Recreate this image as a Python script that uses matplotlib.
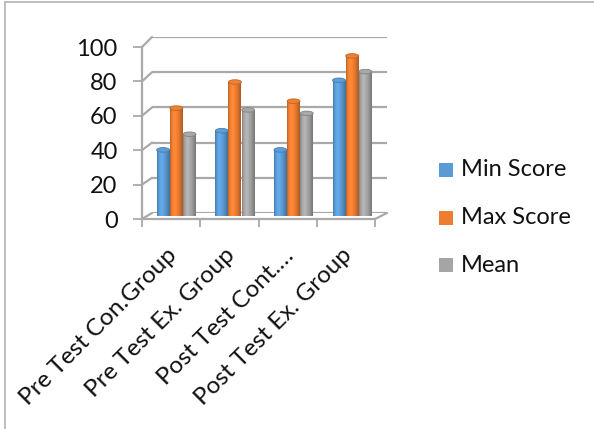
import matplotlib
matplotlib.use("Agg")
import matplotlib.pyplot as plt
from matplotlib.patches import Ellipse, Rectangle, ConnectionPatch
from matplotlib.lines import Line2D
from matplotlib.colors import to_rgb
from matplotlib.transforms import ScaledTranslation
import numpy as np

plt.rcParams['font.family'] = ['Lato', 'DejaVu Sans']

groups = ["Pre Test Con.Group", "Pre Test Ex. Group", "Post Test Cont.\u2026", "Post Test Ex. Group"]
series = ["Min Score", "Max Score", "Mean"]
min_score = [38, 49, 38, 78]
max_score = [62, 77, 66, 92]
mean_score = [47, 61, 59, 83]
colors = ["#5B9BD5", "#ED7D31", "#A5A5A5"]
yticks = [0, 20, 40, 60, 80, 100]

W, H = 594, 429
fig = plt.figure(figsize=(W / 100, H / 100), dpi=100)

def px_axes(left, right, top, bottom):
    # axes box given in pixel coordinates measured from the top-left corner
    return fig.add_axes([left / W, (H - bottom) / H, (right - left) / W, (bottom - top) / H])

grid_col = "#A9A9A9"
ax_back = px_axes(152, 387, 37, 213)   # back wall
ax_mid = px_axes(147, 381.5, 42, 216)  # plane the cylinders stand in
ax_front = px_axes(142, 375, 47, 219)  # front edge with ticks and labels

for a in (ax_back, ax_mid, ax_front):
    a.set_xlim(-0.5, len(groups) - 0.5)
    a.set_ylim(0, 100)
    a.patch.set_visible(False)
    for s in a.spines.values():
        s.set_visible(False)

# back wall gridlines
for a in (ax_back, ax_mid):
    a.set_xticks([])
    a.set_yticks([])
for v in yticks:
    ax_back.axhline(v, color=grid_col, lw=1.6, zorder=1)
    # side wall lines from the front axis to the back wall
    con = ConnectionPatch(xyA=(-0.5, v), coordsA=ax_front.transData,
                          xyB=(-0.5, v), coordsB=ax_back.transData,
                          color=grid_col, lw=1.6, zorder=1)
    ax_back.add_artist(con)
con = ConnectionPatch(xyA=(len(groups) - 0.5, 0), coordsA=ax_front.transData,
                      xyB=(len(groups) - 0.5, 0), coordsB=ax_back.transData,
                      color=grid_col, lw=1.6, zorder=1)
ax_back.add_artist(con)

# cylinders
values = [min_score, max_score, mean_score]
width = 0.22
offsets = [-0.225, 0.0, 0.225]
x = np.arange(len(groups))
shade_t = np.linspace(0, 1, 64)
shade = np.interp(shade_t, [0, 0.12, 0.35, 0.7, 1.0], [0.78, 0.98, 1.12, 0.95, 0.72])

for vals, off, col in zip(values, offsets, colors):
    base = np.array(to_rgb(col))
    grad = np.clip(base[None, :] * shade[:, None], 0, 1)[None, :, :]
    bars = ax_mid.bar(x + off, vals, width, color=col, zorder=2)
    for b, v in zip(bars, vals):
        x0 = b.get_x()
        im = ax_mid.imshow(grad, extent=(x0, x0 + width, 0, v), aspect='auto',
                           interpolation='bilinear', zorder=3)
        im.set_clip_path(b)
        top = Ellipse((x0 + width / 2, v), width, 2.6,
                      facecolor=np.clip(base * 1.02, 0, 1),
                      edgecolor=np.clip(base * 0.8, 0, 1), lw=0.6, zorder=4)
        ax_mid.add_patch(top)
ax_mid.set_xlim(-0.5, len(groups) - 0.5)
ax_mid.set_ylim(0, 100)

# front axis
ax_front.spines['left'].set_visible(True)
ax_front.spines['bottom'].set_visible(True)
ax_front.spines['left'].set_color(grid_col)
ax_front.spines['bottom'].set_color(grid_col)
ax_front.spines['left'].set_linewidth(1.6)
ax_front.spines['bottom'].set_linewidth(1.6)
ax_front.set_yticks(yticks)
ax_front.set_yticklabels([str(v) for v in yticks], fontsize=17)
ax_front.tick_params(axis='y', length=6.5, width=1.3, color=grid_col, pad=11)
ax_front.set_xticks(np.arange(len(groups) + 1) - 0.5, minor=True)
ax_front.set_xticks(x)
ax_front.set_xticklabels(groups, rotation=45, ha='right', va='top',
                         rotation_mode='anchor', fontsize=17.5)
ax_front.tick_params(axis='x', which='major', length=0, pad=17)
ax_front.tick_params(axis='x', which='minor', length=6, width=1.3, color=grid_col)

shift = ScaledTranslation(-5 / 100, -2 / 100, fig.dpi_scale_trans)
for lbl in ax_front.get_xticklabels():
    lbl.set_color('#111111')
    lbl.set_transform(lbl.get_transform() + shift)
for lbl in ax_front.get_yticklabels():
    lbl.set_color('#111111')

# legend
for i, (name, col) in enumerate(zip(series, colors)):
    yc = 170 + i * 47.5
    fig.patches.append(Rectangle((439 / W, (H - yc - 7) / H), 14 / W, 14 / H,
                                 transform=fig.transFigure, facecolor=col, edgecolor='none'))
    fig.text(461 / W, (H - yc) / H, name, fontsize=17, va='center', ha='left', color='#111111')

# chart border
fig.add_artist(Line2D([5 / W, 5 / W], [0, (H - 2) / H], color="#BDBDBD", lw=1.4))
fig.add_artist(Line2D([5 / W, 1], [(H - 2) / H, (H - 2) / H], color="#BDBDBD", lw=1.4))

fig.savefig("out.png", dpi=100)
